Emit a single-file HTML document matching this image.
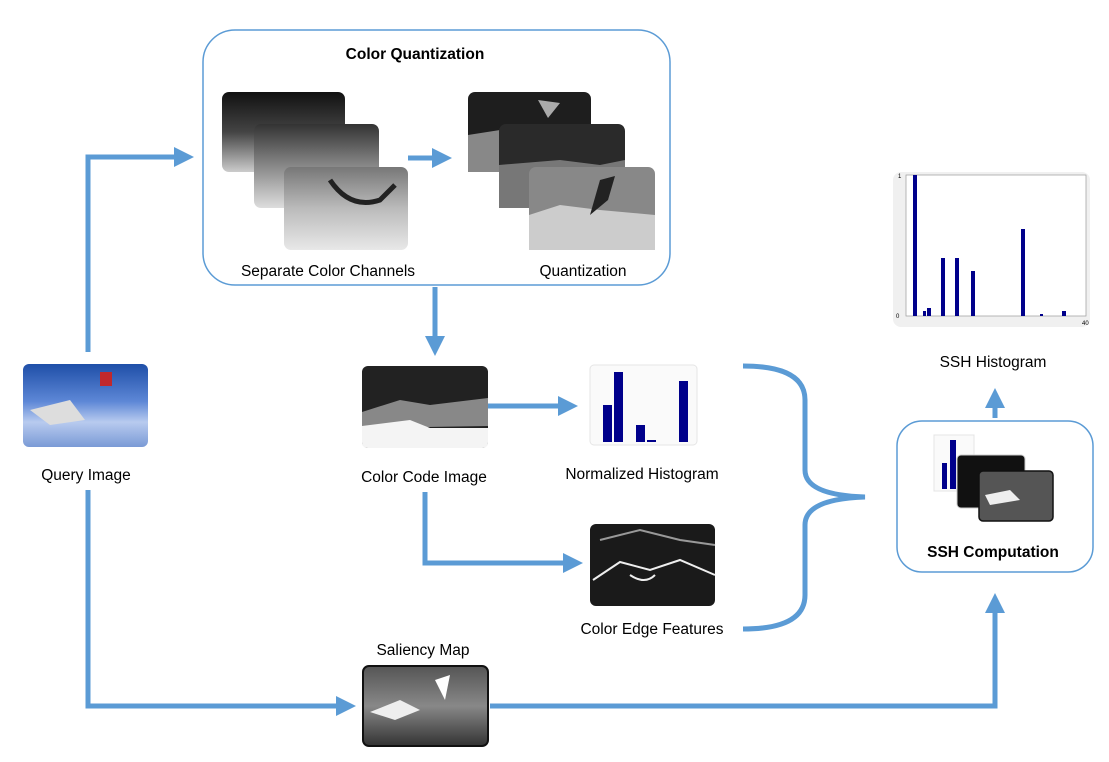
<!DOCTYPE html>
<html><head><meta charset="utf-8"><style>
html,body{margin:0;padding:0;background:#fff}
svg{display:block}
text{font-family:"Liberation Sans",sans-serif;font-size:15.5px;fill:#000}
</style></head><body>
<svg width="1109" height="762" viewBox="0 0 1109 762" xmlns="http://www.w3.org/2000/svg">
<defs>
<marker id="ah" markerWidth="4" markerHeight="4" refX="2" refY="2" orient="auto" markerUnits="strokeWidth">
<path d="M0,0 L4,2 L0,4 Z" fill="#5b9bd5"/></marker>
<linearGradient id="g1" x1="0" y1="0" x2="0" y2="1"><stop offset="0" stop-color="#111"/><stop offset="0.5" stop-color="#444"/><stop offset="1" stop-color="#ccc"/></linearGradient>
<linearGradient id="g2" x1="0" y1="0" x2="0" y2="1"><stop offset="0" stop-color="#333"/><stop offset="0.5" stop-color="#888"/><stop offset="1" stop-color="#ddd"/></linearGradient>
<linearGradient id="g3" x1="0" y1="0" x2="0" y2="1"><stop offset="0" stop-color="#777"/><stop offset="0.5" stop-color="#bbb"/><stop offset="1" stop-color="#e8e8e8"/></linearGradient>
<linearGradient id="gq" x1="0" y1="0" x2="0" y2="1"><stop offset="0" stop-color="#1f4fa8"/><stop offset="0.45" stop-color="#5d87d6"/><stop offset="0.7" stop-color="#b8cbef"/><stop offset="1" stop-color="#7a9ad6"/></linearGradient>
<linearGradient id="gs" x1="0" y1="0" x2="0" y2="1"><stop offset="0" stop-color="#555"/><stop offset="0.5" stop-color="#888"/><stop offset="1" stop-color="#333"/></linearGradient>
</defs>

<rect x="203" y="30" width="467" height="255" rx="32" fill="#fff" stroke="#5b9bd5" stroke-width="1.5"/>
<text x="415" y="59" font-weight="bold" text-anchor="middle">Color Quantization</text>
<rect x="222" y="92" width="123" height="80" rx="7" fill="url(#g1)"/>
<rect x="254" y="124" width="125" height="84" rx="7" fill="url(#g2)"/>
<rect x="284" y="167" width="124" height="83" rx="7" fill="url(#g3)"/>
<path d="M330,180 Q350,210 380,200 L395,185" stroke="#222" stroke-width="5" fill="none"/>
<rect x="468" y="92" width="123" height="80" rx="7" fill="#1e1e1e"/>
<path d="M538,100 L560,103 L548,118 Z" fill="#aaa"/>
<path d="M468,135 L500,130 L500,172 L468,172 Z" fill="#888"/>
<rect x="499" y="124" width="126" height="84" rx="7" fill="#2a2a2a"/>
<path d="M499,165 L560,160 L600,165 L625,160 L625,208 L499,208 Z" fill="#777"/>
<rect x="529" y="167" width="126" height="83" rx="7" fill="#888"/>
<path d="M529,215 L560,205 L600,210 L655,215 L655,250 L529,250 Z" fill="#ccc"/>
<path d="M600,180 L615,176 L608,200 L590,215 Z" fill="#222"/>
<line x1="408" y1="158" x2="442" y2="158" stroke="#5b9bd5" stroke-width="5" marker-end="url(#ah)"/>
<text x="328" y="276" text-anchor="middle">Separate Color Channels</text>
<text x="583" y="276" text-anchor="middle">Quantization</text>

<rect x="23" y="364" width="125" height="83" rx="6" fill="url(#gq)"/>
<rect x="100" y="372" width="12" height="14" fill="#c0282c"/>
<path d="M30,410 L70,400 L85,420 L50,425 Z" fill="#ddd"/>
<text x="86" y="480" text-anchor="middle">Query Image</text>

<polyline points="88,352 88,157 184,157" fill="none" stroke="#5b9bd5" stroke-width="5" marker-end="url(#ah)"/>
<polyline points="88,490 88,706 346,706" fill="none" stroke="#5b9bd5" stroke-width="5" marker-end="url(#ah)"/>

<line x1="435" y1="287" x2="435" y2="346" stroke="#5b9bd5" stroke-width="5" marker-end="url(#ah)"/>

<rect x="362" y="366" width="126" height="82" rx="6" fill="#222"/>
<path d="M362,412 L400,400 L430,405 L488,398 L488,426 L362,428 Z" fill="#888"/>
<path d="M362,426 L410,420 L430,428 L488,428 L488,442 Q488,448 482,448 L368,448 Q362,448 362,442 Z" fill="#f4f4f4"/>
<text x="424" y="482" text-anchor="middle">Color Code Image</text>
<line x1="488" y1="406" x2="568" y2="406" stroke="#5b9bd5" stroke-width="5" marker-end="url(#ah)"/>

<rect x="590" y="365" width="107" height="80" rx="4" fill="#fafafa" stroke="#e5e5e5"/>
<g fill="#00008b">
<rect x="603" y="405" width="9" height="37"/>
<rect x="614" y="372" width="9" height="70"/>
<rect x="636" y="425" width="9" height="17"/>
<rect x="647" y="440" width="9" height="2"/>
<rect x="679" y="381" width="9" height="61"/>
</g>
<text x="642" y="479" text-anchor="middle">Normalized Histogram</text>

<polyline points="425,492 425,563 573,563" fill="none" stroke="#5b9bd5" stroke-width="5" marker-end="url(#ah)"/>
<rect x="590" y="524" width="125" height="82" rx="6" fill="#1a1a1a"/>
<path d="M593,580 L620,562 L650,570 L680,560 L715,575" stroke="#eee" stroke-width="2" fill="none"/>
<path d="M600,540 L640,530 L680,540 L715,545" stroke="#999" stroke-width="2" fill="none"/>
<path d="M630,575 Q645,585 655,575" stroke="#eee" stroke-width="2" fill="none"/>
<text x="652" y="634" text-anchor="middle">Color Edge Features</text>

<path d="M743,366 Q805,366 805,400 L805,470 Q805,495 865,497 Q805,499 805,525 L805,595 Q805,629 743,629" fill="none" stroke="#5b9bd5" stroke-width="5"/>

<rect x="897" y="421" width="196" height="151" rx="25" fill="#fff" stroke="#5b9bd5" stroke-width="1.5"/>
<rect x="934" y="435" width="40" height="56" fill="#fafafa" stroke="#e5e5e5"/>
<rect x="942" y="463" width="5" height="26" fill="#00008b"/>
<rect x="950" y="440" width="6" height="49" fill="#00008b"/>
<rect x="957" y="455" width="68" height="53" rx="4" fill="#111" stroke="#ccc" stroke-width="1"/>
<rect x="979" y="471" width="74" height="50" rx="4" fill="#555" stroke="#111" stroke-width="1.5"/>
<path d="M985,495 L1010,490 L1020,500 L990,505 Z" fill="#eee"/>
<text x="993" y="557" font-weight="bold" text-anchor="middle">SSH Computation</text>
<line x1="995" y1="418" x2="995" y2="398" stroke="#5b9bd5" stroke-width="5" marker-end="url(#ah)"/>
<text x="993" y="367" text-anchor="middle">SSH Histogram</text>

<rect x="893" y="172" width="197" height="155" rx="8" fill="#f0f0f0"/>
<rect x="906" y="175" width="180" height="141" fill="#fff" stroke="#999" stroke-width="0.7"/>
<g fill="#00008b">
<rect x="913" y="175" width="4" height="141"/>
<rect x="923" y="311" width="3" height="5"/>
<rect x="927" y="308" width="4" height="8"/>
<rect x="941" y="258" width="4" height="58"/>
<rect x="955" y="258" width="4" height="58"/>
<rect x="971" y="271" width="4" height="45"/>
<rect x="1021" y="229" width="4" height="87"/>
<rect x="1040" y="314" width="3" height="2"/>
<rect x="1062" y="311" width="4" height="5"/>
</g>
<g><text x="898" y="178" style="font-size:6px">1</text><text x="896" y="318" style="font-size:6px">0</text><text x="1082" y="325" style="font-size:6px">40</text></g>

<text x="423" y="655" text-anchor="middle">Saliency Map</text>
<rect x="363" y="666" width="125" height="80" rx="6" fill="url(#gs)" stroke="#111" stroke-width="2"/>
<path d="M370,712 L400,700 L420,710 L395,720 Z" fill="#eee"/>
<path d="M435,680 L450,675 L445,700 Z" fill="#fff"/>
<polyline points="490,706 995,706 995,603" fill="none" stroke="#5b9bd5" stroke-width="5" marker-end="url(#ah)"/>
</svg>
</body></html>
